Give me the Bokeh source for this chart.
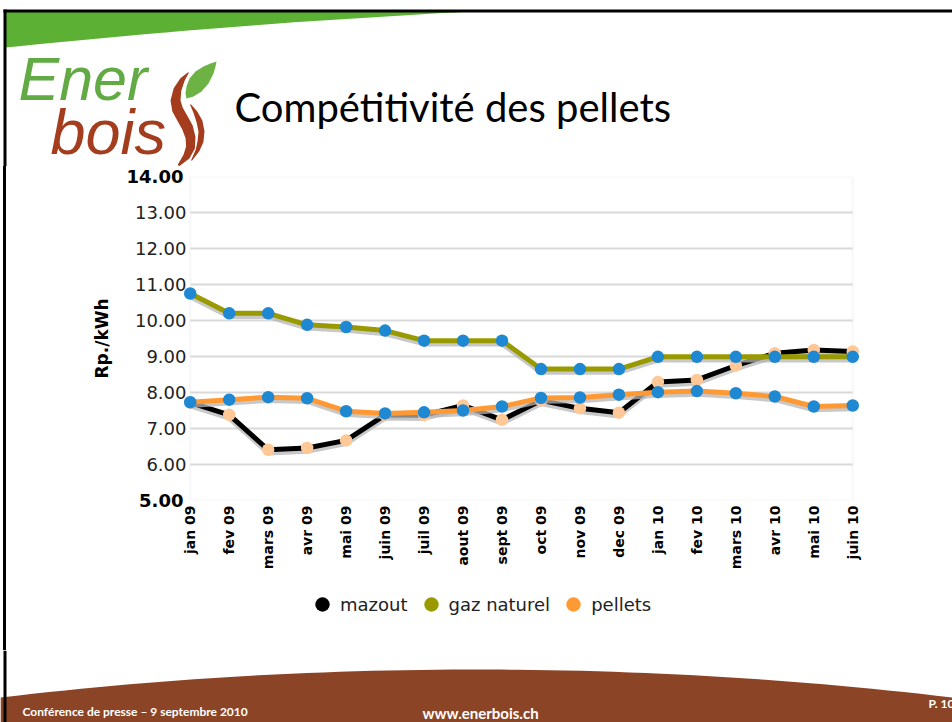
import numpy as np
from bokeh.plotting import figure
from bokeh.layouts import column, row
from bokeh.models import (Range1d, FixedTicker, PrintfTickFormatter, LinearAxis, BoxAnnotation,
                          Legend, LegendItem, ColumnDataSource, Div)
from bokeh.transform import dodge
from bokeh.core.properties import value
from bokeh.embed import file_html
from bokeh.resources import INLINE

# ---------------- data ----------------
months = ["jan 09", "fev 09", "mars 09", "avr 09", "mai 09", "juin 09", "juil 09",
          "aout 09", "sept 09", "oct 09", "nov 09", "dec 09", "jan 10", "fev 10",
          "mars 10", "avr 10", "mai 10", "juin 10"]
mazout = [7.72, 7.38, 6.41, 6.46, 6.67, 7.38, 7.37, 7.64, 7.24, 7.78, 7.56, 7.44,
          8.29, 8.35, 8.75, 9.09, 9.18, 9.14]
gaz_naturel = [10.75, 10.20, 10.20, 9.88, 9.82, 9.72, 9.44, 9.44, 9.44, 8.65, 8.65, 8.65,
               8.99, 8.99, 8.99, 8.99, 8.99, 8.99]
pellets = [7.73, 7.80, 7.87, 7.84, 7.48, 7.42, 7.45, 7.50, 7.61, 7.85, 7.86, 7.94,
           8.01, 8.04, 7.98, 7.89, 7.61, 7.64]
series_names = ["mazout", "gaz naturel", "pellets"]
y_ticks_inner = [6, 7, 8, 9, 10, 11, 12, 13]
y_ticks_end = [5, 14]
y_label = "Rp./kWh"
title_text = "Compétitivité des pellets"
footer_left = "Conférence de presse – 9 septembre 2010"
footer_mid = "www.enerbois.ch"
footer_right = "P. 10"

W = 952
HEADER_H = 166
CHART_H = 424
LEGEND_H = 60
FOOTER_H = 722 - HEADER_H - CHART_H - LEGEND_H
STRIP_W = 7


def blank(width, height, y0, y1, x0=0, x1=None):
    f = figure(width=width, height=height, x_range=Range1d(x0, x1 if x1 is not None else width),
               y_range=Range1d(y1, y0), min_border=0, toolbar_location=None,
               output_backend="svg", outline_line_color=None,
               background_fill_color="white", border_fill_color="white")
    f.axis.visible = False
    f.grid.visible = False
    return f


def stroke(pts, widths):
    pts = np.asarray(pts, float)
    w = np.asarray(widths, float)
    t = np.gradient(pts, axis=0)
    t /= np.linalg.norm(t, axis=1)[:, None]
    n = np.stack([-t[:, 1], t[:, 0]], axis=1)
    poly = np.vstack([pts + n * w[:, None] / 2, (pts - n * w[:, None] / 2)[::-1]])
    return list(poly[:, 0]), list(poly[:, 1])


MID = {"Lato": 0.387, "Liberation Sans": 0.346}


def txt(f, x, baseline, s, font, size, color, style="normal", align="left"):
    px = float(size.replace("px", ""))
    f.text(x=[x], y=[baseline - MID[font] * px], text=[s], text_font=value(font),
           text_font_size=value(size), text_color=color, text_font_style=style,
           text_align=align, text_baseline="middle")

# ---------------- header (logo + title) ----------------
hd = blank(W, HEADER_H, 0, HEADER_H)
gx = np.linspace(5, 470, 30)
gy = 47 - (gx - 5) * (36.0 / 465) - 3 * np.sin(np.pi * (gx - 5) / 465)
hd.patch(list(np.r_[5, 470, gx[::-1]]), list(np.r_[10, 10, gy[::-1]]),
         fill_color="#5cb134", line_color=None)
hd.quad(left=[3], right=[W], top=[9], bottom=[12], fill_color="black", line_color=None)
hd.quad(left=[3], right=[6], top=[9], bottom=[HEADER_H], fill_color="black", line_color=None)
hd.patch([216, 210, 203, 195, 189, 186, 185, 186, 193, 201, 208, 213, 215],
         [61, 63, 66, 71, 78, 86, 93, 98, 96, 91, 83, 73, 66],
         fill_color="#6cb344", line_color=None)
fx, fy = stroke([(188, 72), (182, 79), (177, 89), (175, 100), (177, 109), (182, 118),
                 (187, 127), (190, 137), (190, 147), (186, 156), (178, 165)],
                [1, 5, 8, 10, 11, 11, 11, 10, 9, 7, 2])
hd.patch(fx, fy, fill_color="#a33d1e", line_color=None)
fx, fy = stroke([(190, 104), (195, 112), (199, 121), (201, 131), (200, 141),
                 (197, 150), (191, 160)], [1, 4, 6, 6, 6, 4, 1])
hd.patch(fx, fy, fill_color="#a33d1e", line_color=None)
txt(hd, 18, 100, "Ener", "Liberation Sans", "61px", "#62aa44", "italic")
txt(hd, 50, 153, "bois", "Liberation Sans", "63px", "#a33d1e", "italic")
txt(hd, 234, 122, title_text, "Lato", "40px", "black")

# ---------------- left border strip ----------------
strip = Div(text="", width=STRIP_W, height=CHART_H + LEGEND_H, margin=0,
            styles={"background": "linear-gradient(90deg, #ffffff 0px, #ffffff 3px, #000000 3px, "
                                   "#000000 6px, #ffffff 6px)"})

# ---------------- chart ----------------
FL, FW, FH, FT = 180 - STRIP_W, 682, 324, 10
p = figure(width=W - STRIP_W, height=CHART_H,
           min_border_left=FL, min_border_right=W - STRIP_W - FL - FW,
           min_border_top=FT, min_border_bottom=CHART_H - FT - FH,
           x_range=Range1d(-0.25, len(months) - 0.75),
           y_range=Range1d(y_ticks_end[0], y_ticks_end[-1]),
           output_backend="svg", toolbar_location=None,
           background_fill_color="white", border_fill_color="white",
           outline_line_color=None)

p.xgrid.visible = False
p.ygrid.grid_line_color = "#d9d9d9"
p.ygrid.grid_line_width = 2
p.ygrid.ticker = FixedTicker(ticks=sorted(y_ticks_inner + y_ticks_end))

xa = p.xaxis[0]
xa.ticker = FixedTicker(ticks=list(range(len(months))))
xa.major_label_overrides = {i: m for i, m in enumerate(months)}
xa.major_label_orientation = np.pi / 2
xa.major_label_text_font = "DejaVu Sans"
xa.major_label_text_font_style = "bold"
xa.major_label_text_font_size = "14px"
xa.major_label_text_color = "black"
xa.axis_line_color = None
xa.major_tick_line_color = None
xa.minor_tick_line_color = None
xa.major_tick_out = 0
xa.major_label_standoff = 5

ya = p.yaxis[0]
ya.ticker = FixedTicker(ticks=y_ticks_inner)
ya.formatter = PrintfTickFormatter(format="%.2f")
ya.major_label_text_font = "DejaVu Sans"
ya.major_label_text_font_size = "18px"
ya.major_label_text_color = "#222222"
ya.axis_line_color = None
ya.major_tick_line_color = None
ya.minor_tick_line_color = None
ya.major_tick_out = 0
ya.major_label_standoff = -6

ya2 = LinearAxis(ticker=FixedTicker(ticks=y_ticks_end),
                 formatter=PrintfTickFormatter(format="%.2f"),
                 major_label_text_font="DejaVu Sans", major_label_text_font_style="bold",
                 major_label_text_font_size="18px", major_label_text_color="black",
                 axis_line_color=None, major_tick_line_color=None, minor_tick_line_color=None,
                 major_tick_out=0, major_label_standoff=-52,
                 axis_label=y_label, axis_label_text_font="DejaVu Sans",
                 axis_label_text_font_style="bold", axis_label_text_font_size="17px",
                 axis_label_text_color="black", axis_label_standoff=12)
p.add_layout(ya2, "left")

p.add_layout(BoxAnnotation(left=-0.25, right=0, fill_color="white", fill_alpha=1,
                           line_color=None, level="underlay"))
p.add_layout(BoxAnnotation(left=len(months) - 1, right=len(months) - 0.75, fill_color="white",
                           fill_alpha=1, line_color=None, level="underlay"))
p.add_layout(BoxAnnotation(left=0, right=len(months) - 1, bottom=y_ticks_end[0],
                           top=y_ticks_end[-1], fill_alpha=0, line_color="#e6e6e6",
                           line_width=2, level="underlay"))

src = ColumnDataSource(dict(x=list(range(len(months))), mazout=mazout,
                            gaz=gaz_naturel, pellets=pellets))
line_colors = ["#000000", "#999900", "#ff9933"]
marker_colors = ["#ffc896", "#1f88d2", "#1f88d2"]
for col, lc, mc in zip(["mazout", "gaz", "pellets"], line_colors, marker_colors):
    p.line(x="x", y=dodge(col, -0.09), source=src, line_color="#b5b5b5", line_alpha=0.75,
           line_width=5, line_join="round")
    p.line(x="x", y=col, source=src, line_color=lc, line_width=5, line_join="round")
    p.scatter(x="x", y=col, source=src, marker="circle", size=12.5, fill_color=mc,
              line_color=mc, line_width=0)

# ---------------- legend strip ----------------
LY0 = HEADER_H + CHART_H
lg = blank(W - STRIP_W, LEGEND_H, LY0, LY0 + LEGEND_H, STRIP_W, W)
leg_items = []
for name, lc in zip(series_names, line_colors):
    r = lg.scatter(x=[float("nan")], y=[float("nan")], marker="circle", fill_color=lc,
                   line_color=lc, line_alpha=0)
    leg_items.append(LegendItem(label=name, renderers=[r]))
legend = Legend(items=leg_items, orientation="horizontal",
                location=(124, LY0 + LEGEND_H - 622),
                glyph_width=36, glyph_height=36, label_standoff=0, spacing=5,
                padding=0, margin=0, border_line_color=None, background_fill_alpha=0,
                label_text_font="DejaVu Sans", label_text_font_size="18px",
                label_text_color="#222222")
lg.add_layout(legend)

# ---------------- footer ----------------
FY0 = 722 - FOOTER_H
ft = blank(W, FOOTER_H, FY0, 722)
bx = np.linspace(0, W, 60)
by = 669 + 28 * ((bx - 476) / 476) ** 2
ft.patch(list(np.r_[bx, W, 0]), list(np.r_[by, 730, 730]), fill_color="#8b4526",
         line_color=None)
ft.quad(left=[3], right=[6], top=[FY0], bottom=[722], fill_color="black", line_color=None)
txt(ft, 22, 716, footer_left, "Lato", "12px", "white", "bold")
txt(ft, 480, 718, footer_mid, "Lato", "15px", "white", "bold", "center")
txt(ft, 928, 708, footer_right, "Lato", "12px", "white", "bold")

layout = column(hd, row(strip, column(p, lg, spacing=0), spacing=0), ft, spacing=0)
open("out.html", "w").write(file_html(layout, INLINE))
